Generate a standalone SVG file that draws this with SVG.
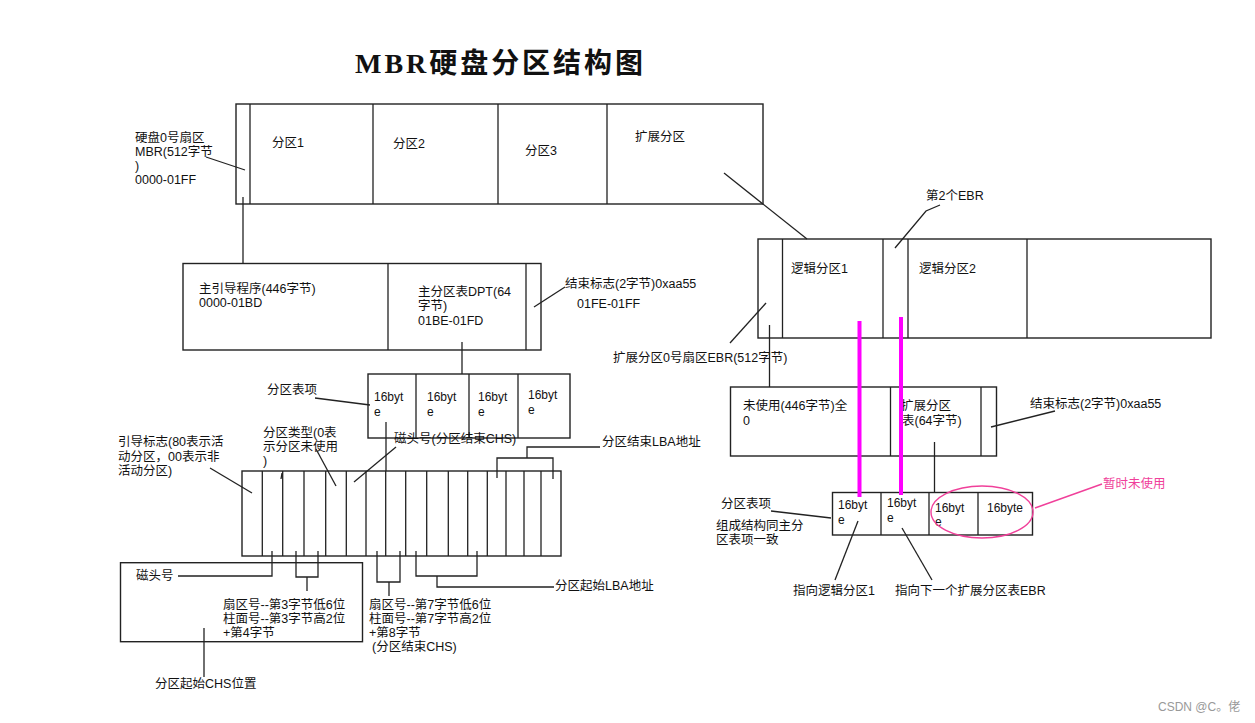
<svg xmlns="http://www.w3.org/2000/svg" width="1255" height="723" viewBox="0 0 1255 723">
<style>
.box{fill:#fff;stroke:#222;stroke-width:1.4}
.ln{fill:none;stroke:#222;stroke-width:1.3}
.pk{fill:none;stroke:#ff00ff;stroke-width:4}
.pl{fill:none;stroke:#f0409a;stroke-width:1.4}
text{font-family:'Liberation Sans','Noto Sans CJK SC',sans-serif;font-size:12.5px;fill:#111}
.sm{font-size:12px}
.title{font-family:'Liberation Serif','Noto Sans CJK SC',serif;font-size:28px;font-weight:bold;fill:#111}
.pt{fill:#f0409a;font-size:12.5px}
.wm{font-family:'Liberation Sans','Noto Sans CJK SC',sans-serif;font-size:12px;fill:#999}
</style>
<rect width="1255" height="723" fill="#fff"/>

<g id="title"><text class="title" x="355" y="73" textLength="288" lengthAdjust="spacing">MBR硬盘分区结构图</text></g>

<g id="disk">
<rect class="box" x="236" y="104" width="527" height="100"/>
<path class="ln" d="M250 104V204M373 104V204M498 104V204M607 104V204"/>
<text x="272" y="147">分区1</text>
<text x="393" y="148">分区2</text>
<text x="525" y="155">分区3</text>
<text x="635" y="141">扩展分区</text>
</g>

<g id="mbr-label">
<text x="135" y="142">硬盘0号扇区</text>
<text x="135" y="156">MBR(512字节</text>
<text x="135" y="170">)</text>
<text x="135" y="184">0000-01FF</text>
</g>

<g id="mbr">
<rect class="box" x="183" y="263.5" width="358" height="86.5"/>
<path class="ln" d="M388 263.5V350M526 263.5V350"/>
<text x="199" y="293">主引导程序(446字节)</text>
<text x="199" y="307">0000-01BD</text>
<text x="418" y="296">主分区表DPT(64</text>
<text x="418" y="310">字节)</text>
<text x="418" y="325">01BE-01FD</text>
</g>

<g id="mbr-end">
<text x="565" y="288">结束标志(2字节)0xaa55</text>
<text x="577" y="308">01FE-01FF</text>
</g>

<g id="ptable">
<rect class="box" x="368" y="374" width="202" height="64"/>
<path class="ln" d="M416 374V438M469 374V438M518 374V438"/>
<text class="sm" x="374" y="401">16byt</text><text class="sm" x="374" y="416">e</text>
<text class="sm" x="427" y="401">16byt</text><text class="sm" x="427" y="416">e</text>
<text class="sm" x="478" y="401">16byt</text><text class="sm" x="478" y="416">e</text>
<text class="sm" x="528" y="399">16byt</text><text class="sm" x="528" y="414">e</text>
<text x="267" y="394">分区表项</text>
</g>

<g id="entry">
<rect class="box" x="242" y="471" width="319" height="85"/>
<path class="ln" d="M262.3 471V556M282.7 471V556M304 471V556M325.7 471V556M346.3 471V556M366 471V556M385.7 471V556M405.7 471V556M426.7 471V556M448.3 471V556M467.7 471V556M487.3 471V556M506 471V556M524 471V556M541 471V556"/>
</g>

<g id="entry-labels">
<text x="118" y="446">引导标志(80表示活</text>
<text x="118" y="461">动分区，00表示非</text>
<text x="118" y="475">活动分区)</text>
<text x="263" y="437">分区类型(0表</text>
<text x="263" y="451">示分区未使用</text>
<text x="263" y="465">)</text>
<text x="394" y="443">磁头号(分区结束CHS)</text>
<text x="602" y="446">分区结束LBA地址</text>
</g>

<g id="chs-box">
<rect class="box" x="120.5" y="562.7" width="242" height="79"/>
<text x="136" y="580">磁头号</text>
<text x="223" y="609">扇区号--第3字节低6位</text>
<text x="223" y="623">柱面号--第3字节高2位</text>
<text x="223" y="637">+第4字节</text>
</g>

<g id="chs-end">
<text x="369" y="609">扇区号--第7字节低6位</text>
<text x="369" y="623">柱面号--第7字节高2位</text>
<text x="369" y="637">+第8字节</text>
<text x="372" y="651">(分区结束CHS)</text>
</g>

<g id="lba-start"><text x="555" y="590">分区起始LBA地址</text></g>
<g id="chs-start"><text x="155" y="688">分区起始CHS位置</text></g>

<g id="logical">
<rect class="box" x="758" y="239" width="453" height="99"/>
<path class="ln" d="M782.5 239V338M883 239V338M908 239V338M1027 239V338"/>
<text x="791" y="273">逻辑分区1</text>
<text x="919" y="273">逻辑分区2</text>
</g>
<g id="ebr2-label"><text x="926" y="200">第2个EBR</text></g>
<g id="ebr0-label"><text x="613" y="362">扩展分区0号扇区EBR(512字节)</text></g>

<g id="ebr">
<rect class="box" x="730.5" y="387" width="266" height="69"/>
<path class="ln" d="M890.5 387V456M981 387V456"/>
<text x="743" y="410">未使用(446字节)全</text>
<text x="743" y="425">0</text>
<text x="901" y="410">扩展分区</text>
<text x="902" y="425">表(64字节)</text>
</g>
<g id="ebr-end"><text x="1030" y="408">结束标志(2字节)0xaa55</text></g>

<g id="ebr-ptable">
<rect class="box" x="832.5" y="492.5" width="200" height="42.5"/>
<path class="ln" d="M881 492.5V535M929 492.5V535M978 492.5V535"/>
<text class="sm" x="838" y="509">16byt</text><text class="sm" x="838" y="524">e</text>
<text class="sm" x="887" y="507">16byt</text><text class="sm" x="887" y="522">e</text>
<text class="sm" x="935" y="512">16byt</text><text class="sm" x="935" y="526">e</text>
<text class="sm" x="987" y="512">16byte</text>
<text x="721" y="508">分区表项</text>
<text x="716" y="530">组成结构同主分</text>
<text x="716" y="544">区表项一致</text>
</g>
<g id="unused"><text class="pt" x="1103" y="488">暂时未使用</text></g>
<g id="ptr1"><text x="793" y="595">指向逻辑分区1</text></g>
<g id="ptr2"><text x="895" y="595">指向下一个扩展分区表EBR</text></g>

<g id="connectors">
<path class="ln" d="M206 157L245 170"/>
<path class="ln" d="M243 197V263.5"/>
<path class="ln" d="M724 173L807 239"/>
<path class="ln" d="M565 287L534 307"/>
<path class="ln" d="M462 342V374"/>
<path class="ln" d="M315 398L370 405"/>
<path class="ln" d="M386 422V471"/>
<path class="ln" d="M210 468L252 493"/>
<path class="ln" d="M316 449L336 486"/>
<path class="ln" d="M282 473L281 479"/>
<path class="ln" d="M396 447L354 482"/>
<path class="ln" d="M497 478V458H553V479M527 458V447H600"/>
<path class="ln" d="M272 551V576H178"/>
<path class="ln" d="M296 551V577H318V551M307 577V591"/>
<path class="ln" d="M377 551V582H400V551M389 582V596"/>
<path class="ln" d="M416 551V576H477V551M437 576V587H554"/>
<path class="ln" d="M204 628V677"/>
<path class="ln" d="M940 205L926 211L895 248"/>
<path class="ln" d="M730 343L766 303"/>
<path class="ln" d="M769.5 325V387"/>
<path class="ln" d="M1055 411L991 427"/>
<path class="ln" d="M934.5 442V492.5"/>
<path class="ln" d="M771 511L831 518"/>
<path class="ln" d="M858 521L835 580"/>
<path class="ln" d="M902 528L932 580"/>
<path class="pk" d="M859.5 321V497M901 317V495"/>
<path class="pl" d="M1102 484L1035 508"/>
<ellipse class="pl" cx="982" cy="512" rx="51" ry="26"/>
</g>

<g id="watermark"><text class="wm" x="1158" y="711">CSDN @C。佬</text></g>
</svg>
